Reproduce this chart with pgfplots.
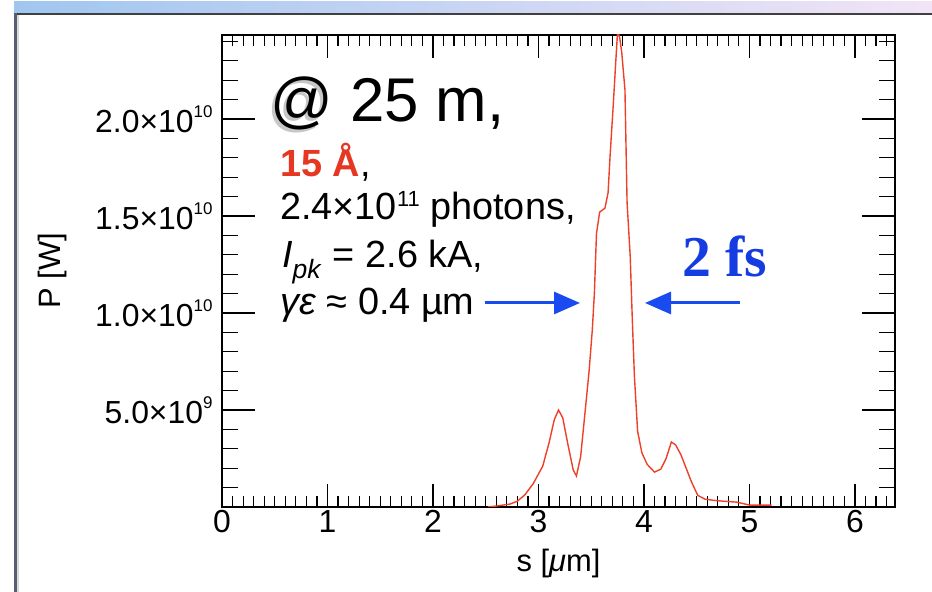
\documentclass[border=0pt]{standalone}
\usepackage{fontspec}
\setmainfont{Liberation Sans}
\newfontfamily\seriffont{Liberation Serif}
\usepackage{pgfplots}
\pgfplotsset{compat=1.18}
\usetikzlibrary{arrows.meta}
\definecolor{curvered}{RGB}{238,64,40}
\definecolor{arrowblue}{RGB}{25,75,240}
\definecolor{fsblue}{RGB}{20,60,225}
\definecolor{barL}{RGB}{160,198,240}
\definecolor{barR}{RGB}{242,228,246}
\definecolor{labred}{RGB}{230,55,35}
\definecolor{frameL}{RGB}{85,95,115}
\newcommand\ytl[2]{#1×10\raisebox{15bp}{\fontsize{17}{17}\selectfont #2}}
\begin{document}
\begin{tikzpicture}[x=1bp,y=1bp]
\path (0,0) rectangle (932,592);
\shade[left color=barL,right color=barR] (14,579) rectangle (932,590);
\fill[black!75] (14,576.5) rectangle (932,579);
\fill[black!15] (17,0) rectangle (19,576.5);
\fill[frameL] (14,0) rectangle (17,579);
\begin{axis}[
  at={(222bp,85bp)}, anchor=south west,
  width=673bp, height=472bp, scale only axis,
  xmin=0, xmax=6.38, ymin=0, ymax=2.433e10,
  axis line style={line width=1.5bp},
  tick align=inside,
  xtick={0,1,2,3,4,5,6},
  xticklabels={0,1,2,3,4,5,6},
  minor xtick={0,0.1,...,6.35},
  ytick={5e9,1e10,1.5e10,2e10},
  yticklabels={\ytl{5.0}{9},\ytl{1.0}{10},\ytl{1.5}{10},\ytl{2.0}{10}},
  minor ytick={1e9,2e9,3e9,4e9,6e9,7e9,8e9,9e9,1.1e10,1.2e10,1.3e10,1.4e10,1.6e10,1.7e10,1.8e10,1.9e10,2.1e10,2.2e10,2.3e10,2.4e10},
  xtick style={/pgfplots/major tick length=23bp,/pgfplots/minor tick length=11bp,line width=1.2bp,black},
  ytick style={/pgfplots/major tick length=33bp,/pgfplots/minor tick length=16bp,line width=1.2bp,black},
  tick label style={font=\fontsize{32}{32}\selectfont},
  yticklabel style={xshift=-6bp},
  scaled y ticks=false,
  xlabel={s [\textit{μ}m]},
  ylabel={P [W]},
  label style={font=\fontsize{31}{31}\selectfont},
  xlabel style={at={(axis description cs:0.5,-0.1377)}, anchor=base},
  ylabel style={at={(axis description cs:-0.2511,0.5)}, anchor=center},
]
\addplot[curvered, line width=1.4bp] coordinates {
(2.52,0) (2.60,0.05e9) (2.73,0.15e9) (2.80,0.3e9) (2.87,0.62e9) (2.95,1.2e9)
(3.04,2.1e9) (3.10,3.3e9) (3.15,4.5e9) (3.19,5.0e9) (3.23,4.6e9) (3.28,3.2e9)
(3.33,1.9e9) (3.36,1.6e9) (3.40,2.6e9) (3.44,4.8e9) (3.48,7.0e9) (3.51,9.1e9)
(3.53,1.1e10) (3.55,1.41e10) (3.58,1.52e10) (3.63,1.54e10) (3.66,1.62e10)
(3.68,1.82e10) (3.71,2.08e10) (3.73,2.27e10) (3.75,2.45e10) (3.77,2.42e10)
(3.79,2.34e10) (3.82,2.15e10) (3.84,1.57e10) (3.87,1.29e10) (3.89,9.6e9)
(3.91,6.7e9) (3.94,3.9e9) (3.98,2.8e9) (4.03,2.2e9) (4.10,1.8e9) (4.16,1.95e9)
(4.21,2.5e9) (4.26,3.35e9) (4.30,3.2e9) (4.35,2.7e9) (4.40,2.0e9) (4.45,1.3e9)
(4.51,0.6e9) (4.58,0.4e9) (4.65,0.35e9) (4.75,0.3e9) (4.88,0.25e9) (5.00,0.1e9)
(5.21,0.1e9)
};
\draw[arrowblue, line width=3bp, -{Triangle[length=26bp,width=22bp]}] (axis cs:2.49,1.0516e10) -- (axis cs:3.394,1.0516e10);
\draw[arrowblue, line width=3bp, -{Triangle[length=26bp,width=22bp]}] (axis cs:4.911,1.0516e10) -- (axis cs:4.010,1.0516e10);
\end{axis}
\node[anchor=base west, inner sep=0, font=\fontsize{62}{62}\selectfont] at (270,470) {\rlap{\kern-3bp\raisebox{-3bp}{\textcolor{black!22}{@}}}@ 25 m,};
\node[anchor=base west, inner sep=0, font=\fontsize{38}{38}\selectfont] at (280,415) {\textcolor{labred}{\bfseries 15 Å},};
\node[anchor=base west, inner sep=0, font=\fontsize{38}{38}\selectfont] at (280,372) {2.4×10\raisebox{13bp}{\fontsize{22}{22}\selectfont 11} photons,};
\node[anchor=base west, inner sep=0, font=\fontsize{38}{38}\selectfont] at (282,324) {\textit{I}\textsubscript{\textit{pk}} = 2.6 kA,};
\node[anchor=base west, inner sep=0, font=\fontsize{38}{38}\selectfont] at (280,277) {\textit{γε} ≈ 0.4 µm};
\node[anchor=base west, inner sep=0, font=\seriffont\bfseries\fontsize{58}{58}\selectfont, text=fsblue] at (682,315) {2 fs};
\end{tikzpicture}
\end{document}
